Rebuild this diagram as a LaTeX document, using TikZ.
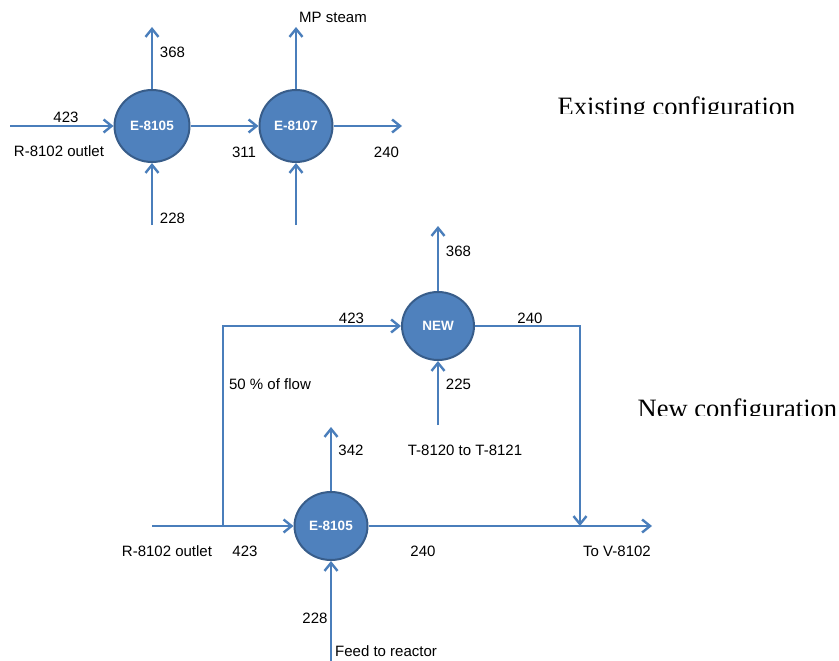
\documentclass[tikz,border=0pt]{standalone}
\usepackage{fontspec}
\setmainfont{Liberation Sans}
\newfontfamily\timesf{Liberation Serif}
\usetikzlibrary{arrows.meta,shapes.geometric}
\definecolor{flow}{HTML}{4A7EBB}
\definecolor{hxfill}{HTML}{4F81BD}
\definecolor{hxline}{HTML}{385D8A}
\tikzset{
  flowline/.style={draw=flow,line width=2.5pt},
  flowarrow/.style={flowline,-{Straight Barb[length=8pt,width=13pt,line width=2.4pt]}},
  hx/.style={ellipse,fill=hxfill,draw=hxline,line width=2pt,text=white,
    font=\bfseries\fontsize{13.5}{15}\selectfont,inner sep=0pt},
  lbl/.style={inner sep=0pt,font=\fontsize{15}{18}\selectfont,text=black},
  title/.style={inner sep=0pt,anchor=base west,font=\timesf\fontsize{26.5}{30}\selectfont}
}
\begin{document}
\begin{tikzpicture}[x=1pt,y=-1pt]
\useasboundingbox (0,0) rectangle (839,661);
% ---------- existing configuration ----------
\node[hx,minimum width=75pt,minimum height=72pt] (e1) at (152,126) {E-8105};
\node[hx,minimum width=73pt,minimum height=72pt] (e2) at (296,126) {E-8107};
\coordinate (in1) at (10,126);
\coordinate (up1) at (152,27);
\coordinate (bot1) at (152,225);
\coordinate (up2) at (296,27);
\coordinate (out2) at (402,126);
\coordinate (bot2) at (296,225);
\draw[flowarrow] (in1) -- (e1);
\draw[flowarrow] (e1.north) -- (up1);
\draw[flowarrow] (bot1) -- (e1.south);
\draw[flowarrow] (e1) -- (e2);
\draw[flowarrow] (e2.north) -- (up2);
\draw[flowarrow] (e2) -- (out2);
\draw[flowarrow] (bot2) -- (e2.south);
\node[lbl] (t423a) at (66,117.5) {423};
\node[lbl] (trin1) at (59,151.5) {R-8102 outlet};
\node[lbl] (t368a) at (172.5,52) {368};
\node[lbl] (t228a) at (172.5,218) {228};
\node[lbl] (t311) at (244,152) {311};
\node[lbl] (tmp) at (333,17.5) {MP steam};
\node[lbl] (t240a) at (386.5,152) {240};
\begin{scope}
\clip (540,80) rectangle (839,113.5);
\node[title] (texist) at (557.5,115.5) {Existing configuration};
\end{scope}
% ---------- new configuration ----------
\node[hx,minimum width=72pt,minimum height=68pt] (nw) at (438,326) {NEW};
\node[hx,minimum width=73pt,minimum height=68pt] (e3) at (331,526) {E-8105};
\coordinate (in3) at (152,526);
\coordinate (jn) at (223,526);
\coordinate (jtop) at (223,326);
\coordinate (upnw) at (438,226);
\coordinate (botnw) at (438,425);
\coordinate (corner) at (580,326);
\coordinate (drop) at (580,526);
\coordinate (out3) at (652,526);
\coordinate (up3) at (331,427);
\coordinate (bot3) at (331,661);
\draw[flowarrow] (in3) -- (e3);
\draw[flowarrow] (jn) -- (jtop) -- (nw);
\draw[flowarrow] (nw.north) -- (upnw);
\draw[flowarrow] (botnw) -- (nw.south);
\draw[flowarrow] (nw) -- (corner) -- (drop);
\draw[flowarrow] (e3) -- (out3);
\draw[flowarrow] (e3.north) -- (up3);
\draw[flowarrow] (bot3) -- (e3.south);
\node[lbl] (t368b) at (458.5,251.5) {368};
\node[lbl] (t423b) at (351.5,318) {423};
\node[lbl] (t240b) at (530,318) {240};
\node[lbl] (tfifty) at (270,384) {50 \% of flow};
\node[lbl] (t225) at (458.5,384) {225};
\node[lbl] (t342) at (351,450.5) {342};
\node[lbl] (tt) at (465,450.5) {T-8120 to T-8121};
\node[lbl] (trin2) at (167,551) {R-8102 outlet};
\node[lbl] (t423c) at (245,551) {423};
\node[lbl] (t240c) at (423,551) {240};
\node[lbl] (tv) at (617,551) {To V-8102};
\node[lbl] (t228b) at (315,618) {228};
\node[lbl,anchor=west] (tfeed) at (335,651) {Feed to reactor};
\begin{scope}
\clip (600,380) rectangle (839,415.5);
\node[title] (tnew) at (637.5,417.5) {New configuration};
\end{scope}
\end{tikzpicture}
\end{document}
